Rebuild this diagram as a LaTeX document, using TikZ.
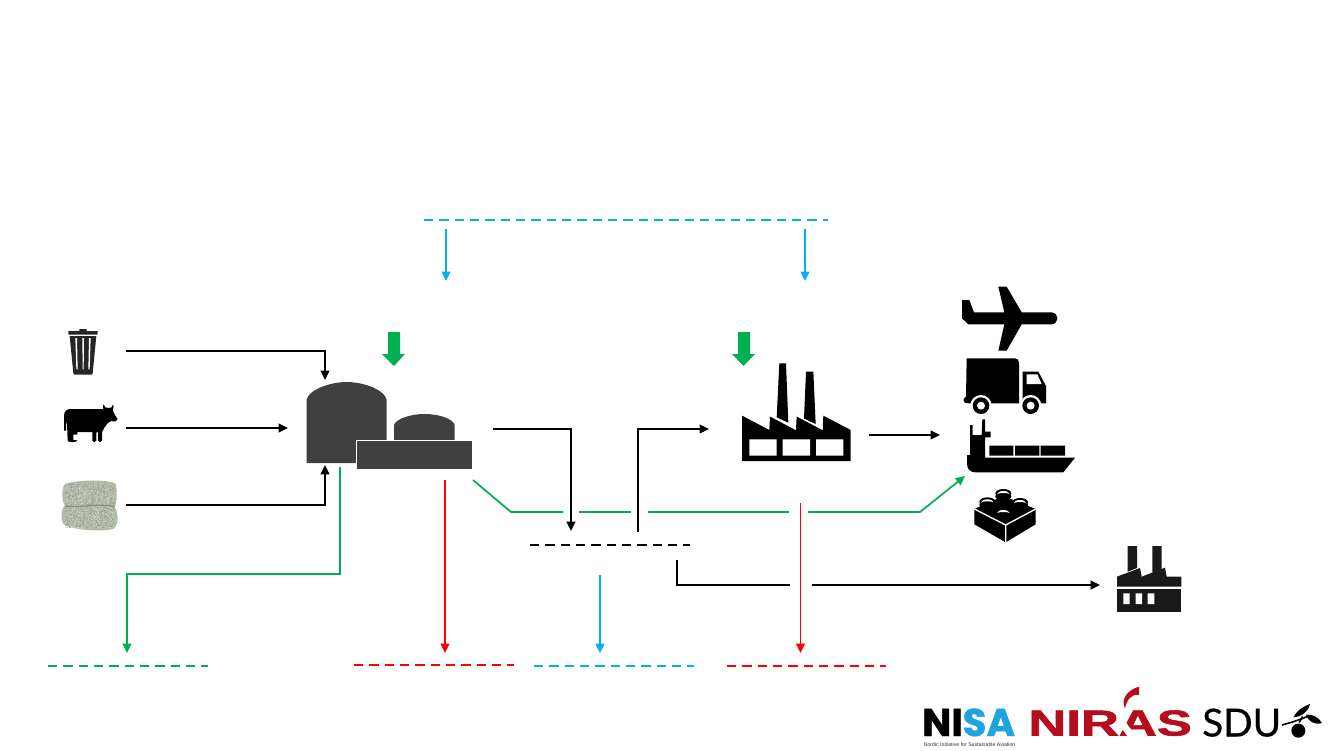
\documentclass[tikz,border=0pt]{standalone}
\usepackage{fontspec}
\setmainfont{Liberation Sans}
\newfontfamily\nisafont[BoldFeatures={FakeBold=1.2}]{Poppins}
\newfontfamily\nirasfont[BoldFeatures={FakeBold=1.5}]{Liberation Sans}
\newfontfamily\sdufont[FakeBold=0.5]{Lato}
\usetikzlibrary{arrows.meta}
\definecolor{flowgreen}{HTML}{00B050}
\definecolor{flowblue}{HTML}{00B0F0}
\definecolor{flowred}{HTML}{FF0000}
\definecolor{plantgray}{HTML}{404040}
\definecolor{nisablue}{HTML}{1EA5DE}
\definecolor{nirasred}{HTML}{B30D1E}
\definecolor{haygreen}{HTML}{B2BBAA}
\definecolor{haydark}{HTML}{87927F}
\definecolor{haylight}{HTML}{E2E6DD}
\begin{document}
\begin{tikzpicture}[x=0.75pt,y=-0.75pt,
flow/.style={line width=1.3pt,-{Triangle[length=7pt,width=6.5pt]}},
plain/.style={line width=1.3pt},
level/.style={line width=1.5pt,dash pattern=on 7pt off 4.5pt},
block/.style={fill=flowgreen},
crop/.style={shift={#1},scale=1/3},
logo/.style={inner sep=0pt,anchor=base west}]
\useasboundingbox (0,0) rectangle (1333,750);
\fill[white] (0,0) rectangle (1333,750);

% ends of the connectors
\coordinate (topL) at (424,220); \coordinate (topR) at (828,220);
\coordinate (topAs) at (446,229); \coordinate (topAe) at (446,281);
\coordinate (topBs) at (805,229); \coordinate (topBe) at (805,281);
\coordinate (wasteS) at (126,351); \coordinate (wasteM) at (325,351); \coordinate (wasteE) at (325,380);
\coordinate (cowS) at (126,428); \coordinate (cowE) at (288,428);
\coordinate (hayS) at (126,505); \coordinate (hayM) at (325,505); \coordinate (hayE) at (325,465);
\coordinate (digS) at (340,467); \coordinate (digA) at (340,574); \coordinate (digB) at (127,574); \coordinate (digE) at (127,653);
\coordinate (digL) at (48,666); \coordinate (digR) at (208,666);
\coordinate (lossS) at (445,480); \coordinate (lossE) at (445,653);
\coordinate (lossL) at (354,664.5); \coordinate (lossR) at (514,664.5);
\coordinate (gasS) at (493,429); \coordinate (gasM) at (571,429); \coordinate (gasE) at (571,531);
\coordinate (synS) at (638,532); \coordinate (synM) at (638,429); \coordinate (synE) at (709,429);
\coordinate (storeL) at (530,545); \coordinate (storeR) at (690,545);
\coordinate (ventS) at (600,575); \coordinate (ventE) at (600,653);
\coordinate (ventL) at (534,666); \coordinate (ventR) at (694,666);
\coordinate (heatS) at (800.5,503); \coordinate (heatE) at (800.5,653);
\coordinate (heatL) at (727,666); \coordinate (heatR) at (886,666);
\coordinate (fuelS) at (869,435); \coordinate (fuelE) at (940,435);
\coordinate (co2S) at (677,560); \coordinate (co2M) at (677,585); \coordinate (co2A) at (790,585);
\coordinate (co2B) at (812,585); \coordinate (co2E) at (1100,585);
\coordinate (biogenA) at (473,480); \coordinate (biogenB) at (511,512); \coordinate (biogenC) at (563,512);
\coordinate (biogenD) at (579,512); \coordinate (biogenE) at (631,512);
\coordinate (biogenF) at (648,512); \coordinate (biogenG) at (789,512);
\coordinate (biogenH) at (808,512); \coordinate (biogenI) at (920,512); \coordinate (biogenJ) at (965,476);

% black connectors
\draw[flow] (wasteS) -- (wasteM) -- (wasteE);
\draw[flow] (cowS) -- (cowE);
\draw[flow] (hayS) -- (hayM) -- (hayE);
\draw[flow] (gasS) -- (gasM) -- (gasE);
\draw[flow] (synS) -- (synM) -- (synE);
\draw[flow] (fuelS) -- (fuelE);
\draw[plain] (co2S) -- (co2M) -- (co2A);
\draw[flow] (co2B) -- (co2E);
\draw[level] (storeL) -- (storeR);

% blue
\draw[level,flowblue] (topL) -- (topR);
\draw[flow,flowblue,line width=1pt] (topAs) -- (topAe);
\draw[flow,flowblue,line width=1pt] (topBs) -- (topBe);
\draw[flow,flowblue] (ventS) -- (ventE);
\draw[level,flowblue] (ventL) -- (ventR);

% red
\draw[flow,flowred] (lossS) -- (lossE);
\draw[level,flowred] (lossL) -- (lossR);
\draw[flow,flowred] (heatS) -- (heatE);
\draw[level,flowred] (heatL) -- (heatR);

% green
\draw[flow,flowgreen] (digS) -- (digA) -- (digB) -- (digE);
\draw[level,flowgreen] (digL) -- (digR);
\draw[plain,flowgreen] (biogenA) -- (biogenB) -- (biogenC);
\draw[plain,flowgreen] (biogenD) -- (biogenE);
\draw[plain,flowgreen] (biogenF) -- (biogenG);
\draw[flow,flowgreen] (biogenH) -- (biogenI) -- (biogenJ);

% power arrows
\fill[block] (388,332) -- (400,332) -- (400,354) -- (405,354) -- (394,366) -- (382,354) -- (388,354) -- cycle;
\fill[block] (738,332) -- (750,332) -- (750,354) -- (755,354) -- (743.5,366) -- (732,354) -- (738,354) -- cycle;

% plant
\fill[plantgray] (306.5,463) -- (306.5,400) .. controls (308,390) and (330,382) .. (346.5,382)
  .. controls (364,382) and (385,390) .. (386.7,400) -- (386.7,463) -- cycle;
\fill[plantgray] (394,441) -- (394,425) .. controls (396,419) and (410,414) .. (424.5,414)
  .. controls (440,414) and (453,419) .. (454.7,425) -- (454.7,441) -- cycle;
\draw[plantgray,fill=plantgray,draw=white,line width=0.6pt] (356.5,440.5) rectangle (472.5,469);

% bin
\begin{scope}[crop={(40,320)}]
\fill[black!85] (118,33) -- (118,27) -- (140,27) -- (140,33) -- (173,33) -- (173,44) -- (85,44) -- (85,33) -- cycle;
\fill[black!85] (89,48) -- (169,48) -- (158,160) .. controls (158,163) .. (155,164) -- (103,164) .. controls (100,163) .. (100,160) -- cycle;
\fill[white] (106,54) -- (111,54) -- (113,148) -- (109,148) -- cycle;
\fill[white] (127,54) -- (132,54) -- (131,148) -- (128,148) -- cycle;
\fill[white] (147,54) -- (152,54) -- (149,148) -- (145,148) -- cycle;

% cow
\fill[black] (72,332) -- (72,288) .. controls (73,272) and (80,267) .. (92,267) -- (190,267)
  .. controls (188,260) and (189,256) .. (191,253) .. controls (192,262) and (198,264) .. (206,264)
  .. controls (214,264) and (218,262) .. (219,253) .. controls (222,258) and (222,264) .. (218,270)
  -- (225,285) -- (233,297) .. controls (233,304) and (224,306) .. (214,303)
  .. controls (205,305) and (195,318) .. (186,336) -- (186,362) .. controls (184,368) and (176,368) .. (174,362)
  -- (174,337) -- (169,337) -- (169,362) .. controls (167,368) and (159,368) .. (157,362) -- (157,336)
  -- (112,336) -- (112,344) -- (100,344) -- (100,360) -- (112,360) .. controls (111,368) and (84,369) .. (83,362)
  -- (81,310) -- (78,310) -- (78,332) -- cycle;

% bales
\fill[haygreen] (72,495) .. controls (100,478) and (200,478) .. (226,490) .. controls (232,510) and (232,545) .. (224,562)
  .. controls (236,580) and (236,610) .. (222,626) .. controls (190,636) and (100,632) .. (70,612)
  .. controls (60,590) and (64,570) .. (74,555) .. controls (64,540) and (66,510) .. (72,495) -- cycle;
\pgfmathsetseed{41}
\foreach \i in {1,...,500}{
  \pgfmathsetmacro{\hx}{76+rnd*146}
  \pgfmathsetmacro{\hy}{490+rnd*134}
  \pgfmathsetmacro{\hs}{40+rnd*50}
  \fill[haydark!\hs!haygreen] (\hx,\hy) circle (1.8);
  \pgfmathsetmacro{\hx}{76+rnd*146}
  \pgfmathsetmacro{\hy}{490+rnd*134}
  \fill[haylight!\hs!haygreen] (\hx,\hy) circle (1.6);
}
\draw[haydark,line width=1pt] (78,558) .. controls (120,565) and (170,548) .. (224,560);
\end{scope}

% factory
\begin{scope}[crop={(720,280)}]
\fill[black] (178,250) -- (198,250) -- (205,428) -- (170,412) -- cycle;
\fill[black] (258,275) -- (280,275) -- (287,432) -- (252,416) -- cycle;
\fill[black] (66,407) -- (148,450) -- (150,407) -- (228,450) -- (230,407) -- (308,450) -- (310,407) -- (392,450)
  -- (392,543) -- (66,543) -- cycle;
\draw[white,line width=1pt] (150,407) -- (228,448) (230,407) -- (308,448);
\fill[white] (88,478) rectangle (170,527) (188,478) rectangle (270,527) (288,478) rectangle (370,527);

% plane
\fill[black] (726,60) -- (748,60) -- (762,97) -- (853,97) -- (835,20) -- (860,20) -- (905,97) -- (995,97)
  .. controls (1018,99) and (1018,131) .. (995,133) -- (905,133) -- (860,212) -- (835,212) -- (853,133) -- (745,133)
  -- (726,115) -- cycle;

% truck
\fill[black] (740,235) -- (885,235) .. controls (893,235) and (897,240) .. (897,248) -- (897,370) -- (745,370)
  .. controls (728,372) and (726,355) .. (738,350) -- cycle;
\fill[black] (908,275) -- (955,275) -- (978,318) -- (978,370) -- (908,370) -- cycle;
\fill[white] (920,283) -- (952,283) -- (965,312) -- (920,312) -- cycle;
\fill[white] (783,377) circle (32) (932,377) circle (32);
\fill[black] (783,377) circle (25) (932,377) circle (25);
\fill[white] (783,377) circle (12) (932,377) circle (12);

% ship
\fill[black] (750,435) -- (758,435) -- (758,465) -- (785,465) -- (787,418) -- (795,418) -- (795,455) -- (812,455)
  -- (812,472) -- (795,472) -- (795,533) -- (1065,533) -- (1030,577) -- (768,577)
  .. controls (750,577) and (741,568) .. (741,550) -- (741,525) -- (750,525) -- cycle;
\fill[black] (808,497) rectangle (880,527) (885,497) rectangle (958,527) (962,497) rectangle (1035,527);

% brick
\fill[black] (763,687) -- (850,648) -- (947,687) -- (947,733) -- (857,787) -- (763,733) -- cycle;
\draw[white,line width=1pt] (763,687) -- (857,735) -- (947,687) (857,735) -- (857,787);
\foreach \bx/\by in {850/640,802/665,900/667,850/697}{
  \fill[black] (\bx,\by) ellipse[x radius=24,y radius=13];
  \fill[black] (\bx,\by+9) ellipse[x radius=24,y radius=13];
  \fill[white] (\bx-19,\by+3) arc[start angle=180,end angle=360,x radius=19,y radius=10]
    arc[start angle=360,end angle=180,x radius=19,y radius=4] -- cycle;
}
\end{scope}

% small factory and logos
\begin{scope}[crop={(910,540)}]
\fill[black!90] (653,18) -- (681,18) -- (681,84) -- (653,95) -- cycle (727,18) -- (755,18) -- (755,88) -- (727,98) -- cycle;
\fill[black!90] (621,110) -- (690,84) -- (695,110) -- (765,83) -- (770,110) -- (814,110) -- (814,140) -- (621,140) -- cycle;
\fill[black!90] (621,148) rectangle (814,215);
\fill[white] (640,160) rectangle (659,192) (677,160) rectangle (696,192) (713,160) rectangle (733,192);
\end{scope}

\node[logo,font=\nisafont\bfseries\fontsize{29}{29}\selectfont] (nisa) at (922,736) {NI\textcolor{nisablue}{SA}};
\node[logo,font=\fontsize{3.9}{4}\selectfont,text=black!80] (nisaText) at (923.5,746) {Nordic Initiative for Sustainable Aviation};
\node[logo,font=\nirasfont\bfseries\fontsize{27}{27}\selectfont,text=nirasred,xscale=1.46] (niras) at (1028,735.5) {NIRAS};
\node[logo,font=\sdufont\fontsize{29}{29}\selectfont] (sdu) at (1202,736.5) {SDU};

\begin{scope}[crop={(910,540)}]
% swoosh of the second logo
\fill[white] (628,505) .. controls (640,530) and (650,565) .. (690,592) -- (660,600) -- (632,560) -- cycle;
\fill[nirasred] (687,440) .. controls (650,450) and (632,480) .. (645,505) .. controls (650,480) and (665,460) .. (687,465) -- cycle;
% apple and leaves
\fill[black] (1165,572) circle (21);
\fill[black] (1165,548) -- (1170,548) -- (1180,530) -- (1176,528) -- cycle;
\draw[black,line width=1.2pt] (1116,555) .. controls (1140,548) and (1170,540) .. (1195,528);
\fill[black] (1150,532) .. controls (1165,505) and (1185,498) .. (1200,492) .. controls (1195,515) and (1175,530) .. (1150,532) -- cycle;
\fill[black] (1188,524) .. controls (1205,522) and (1225,530) .. (1236,549) .. controls (1215,556) and (1195,545) .. (1188,524) -- cycle;
\end{scope}
\end{tikzpicture}
\end{document}
